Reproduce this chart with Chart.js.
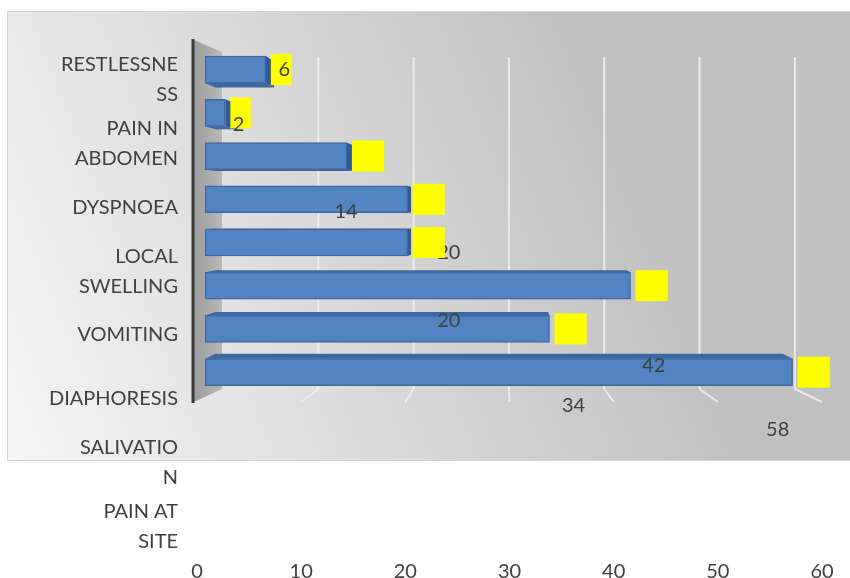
<!DOCTYPE html>
<html><head><meta charset="utf-8">
<script src="https://cdn.jsdelivr.net/npm/chart.js@4.4.1/dist/chart.umd.min.js"></script>
<style>html,body{margin:0;padding:0;background:#fff}#wrap{width:850px;height:578px}</style>
</head><body><div id="wrap"><canvas id="c" width="850" height="578"></canvas></div>
<script>
// ---- data ----
const categories = [['RESTLESSNE','SS'],['PAIN IN','ABDOMEN'],'DYSPNOEA',['LOCAL','SWELLING'],'VOMITING','DIAPHORESIS',['SALIVATIO','N'],['PAIN AT','SITE']];
const values = [6, 2, 14, 20, 20, 42, 34, 58];
const xTicks = [0, 10, 20, 30, 40, 50, 60];
// ---- style: where each value label text lands relative to its yellow box ----
const labelShift = [[3,0],[-2,12],[-22,55],[20,53],[20,78],[2,80],[3,77],[-36,57]];

const FONT = 'Lato';
const TXT = '#404040';
Chart.defaults.font.family = FONT;

function poly(ctx, pts){ ctx.beginPath(); ctx.moveTo(pts[0][0],pts[0][1]); for(let i=1;i<pts.length;i++) ctx.lineTo(pts[i][0],pts[i][1]); ctx.closePath(); ctx.fill(); }

const deco = {
  id: 'deco',
  beforeDraw(chart){
    const ctx = chart.ctx;
    ctx.save();
    ctx.fillStyle = '#fff'; ctx.fillRect(0,0,chart.width,chart.height);
    const g = ctx.createLinearGradient(0,460,650,200);
    g.addColorStop(0,'#f6f6f6'); g.addColorStop(1,'#c0c0c0');
    ctx.fillStyle = g; ctx.fillRect(7,11,chart.width-7,449);
    ctx.strokeStyle = '#d4d4d4'; ctx.lineWidth = 1; ctx.strokeRect(7.5,11.5,chart.width,449);
    ctx.restore();
  },
  beforeDatasetsDraw(chart){
    const ctx = chart.ctx, x = chart.scales.x;
    const x0 = x.getPixelForValue(0);
    const back = v => 223 + (x.getPixelForValue(v) - x0) * 0.915;
    ctx.save();
    // side wall
    const wg = ctx.createLinearGradient(194,0,222,0);
    wg.addColorStop(0,'#9c9c9c'); wg.addColorStop(1,'#b8b8b8');
    ctx.fillStyle = wg;
    poly(ctx, [[194,40],[222,52],[222,389],[194,402]]);
    // back-wall gridlines and floor lines
    ctx.strokeStyle = 'rgba(238,238,238,0.9)'; ctx.lineWidth = 2;
    xTicks.slice(1).forEach(v => {
      const bx = back(v);
      ctx.beginPath(); ctx.moveTo(bx,57); ctx.lineTo(bx,389); ctx.stroke();
      ctx.beginPath(); ctx.moveTo(bx,389); ctx.lineTo(x.getPixelForValue(v),402); ctx.stroke();
    });
    // vertical axis line
    ctx.strokeStyle = '#3a3a3a'; ctx.lineWidth = 3;
    ctx.beginPath(); ctx.moveTo(193,39); ctx.lineTo(193,403); ctx.stroke();
    // 3D faces of bars
    const meta = chart.getDatasetMeta(0);
    const VPx = 505, VPy = 215, T = 0.034;
    const bk = (px,py) => [px + (VPx-px)*T, py + (VPy-py)*T];
    meta.data.forEach(el => {
      const p = el.getProps(['x','y','base','height'], true);
      const e = p.x, yc = p.y, b = p.base, h = p.height;
      const t = yc - h/2, btm = yc + h/2;
      ctx.fillStyle = '#3c67a0';
      if (yc > VPy) poly(ctx, [[b,t],[e,t],bk(e,t),bk(b,t)]);
      else poly(ctx, [[b,btm],[e,btm],bk(e,btm),bk(b,btm)]);
      if (e < VPx) { ctx.fillStyle = '#345b8f'; poly(ctx, [[e,t],[e,btm],bk(e,btm),bk(e,t)]); }
    });
    ctx.restore();
  },
  afterDatasetsDraw(chart){
    const ctx = chart.ctx;
    const meta = chart.getDatasetMeta(0);
    ctx.save();
    ctx.font = '20px ' + FONT;
    ctx.textAlign = 'center'; ctx.textBaseline = 'middle';
    meta.data.forEach((el, i) => {
      const p = el.getProps(['x','y'], true);
      const txt = String(values[i]);
      const w = ctx.measureText(txt).width + 9, hgt = 31;
      const left = p.x + 5;
      ctx.fillStyle = '#ffff00';
      ctx.fillRect(left, p.y - hgt/2, w, hgt);
      ctx.fillStyle = TXT;
      ctx.fillText(txt, left + w/2 + labelShift[i][0], p.y + labelShift[i][1]);
    });
    ctx.restore();
  }
};

new Chart(document.getElementById('c'), {
  type: 'bar',
  data: {
    datasets: [{
      data: values.map((v, i) => ({ x: v, y: i })),
      xAxisID: 'xb', yAxisID: 'yb',
      backgroundColor: '#5283c2',
      borderColor: '#3d69a2',
      borderWidth: 1.5,
      borderSkipped: false,
      barThickness: 27
    }]
  },
  options: {
    indexAxis: 'y',
    responsive: false,
    animation: false,
    layout: { padding: { top: 48, right: 28, left: 0, bottom: -8 } },
    plugins: { legend: { display: false }, tooltip: { enabled: false } },
    scales: {
      x: {
        type: 'linear', position: 'bottom', min: 0, max: 60,
        afterBuildTicks: s => { s.ticks = xTicks.map(v => ({ value: v })); },
        ticks: { font: { size: 20, family: FONT, lineHeight: 1.0 }, color: TXT, padding: 4 },
        grid: { display: false, drawTicks: false }, border: { display: false }
      },
      xb: { type: 'linear', display: false, min: -0.8, max: 60.9 },
      yb: { type: 'linear', display: false, offset: false, min: -0.5, max: 11.3, reverse: true },
      yl: {
        type: 'category', position: 'left', labels: categories, offset: true,
        afterFit: s => { s.width = 197; s.paddingTop = 0; s.paddingBottom = 0; },
        ticks: { font: { size: 20, family: FONT, lineHeight: 1.5 }, color: TXT, padding: 19, crossAlign: 'near', autoSkip: false },
        grid: { display: false, drawTicks: false }, border: { display: false }
      }
    }
  },
  plugins: [deco]
});
</script>
</body></html>
